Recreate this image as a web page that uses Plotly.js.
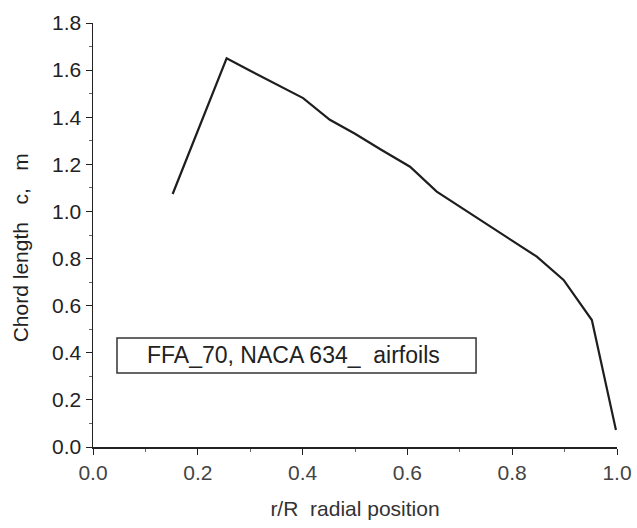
<!DOCTYPE html>
<html>
<head>
<meta charset="utf-8">
<script src="https://cdn.plot.ly/plotly-3.0.1.min.js"></script>
<style>html,body{margin:0;padding:0;background:#fff;}#chart{width:637px;height:528px;}</style>
</head>
<body>
<div id="chart"></div>
<script>
const radialPosition = [0.152, 0.204, 0.255, 0.30, 0.35, 0.401, 0.452, 0.50, 0.55, 0.605, 0.656, 0.70, 0.75, 0.80, 0.847, 0.898, 0.952, 0.998];
const chordLength   = [1.074, 1.367, 1.650, 1.597, 1.539, 1.481, 1.389, 1.330, 1.262, 1.190, 1.084, 1.021, 0.950, 0.876, 0.808, 0.709, 0.539, 0.072];
const xTicks = [0.0, 0.2, 0.4, 0.6, 0.8, 1.0];
const yTicks = [0.0, 0.2, 0.4, 0.6, 0.8, 1.0, 1.2, 1.4, 1.6, 1.8];
const boxLabel = "FFA_70, NACA 634_  airfoils";
const yTitle = "Chord length   c,   m";
const xTitle = "r/R  radial position";

const fam = "Liberation Sans, Arial, sans-serif";

Plotly.newPlot("chart", [{
  x: radialPosition, y: chordLength, type: "scatter", mode: "lines",
  line: {color: "#1e1e1e", width: 2.2}, hoverinfo: "skip"
}], {
  width: 637, height: 528,
  margin: {l: 93, r: 20, t: 23, b: 81},
  paper_bgcolor: "#fff", plot_bgcolor: "#fff",
  showlegend: false,
  font: {family: fam, size: 21, color: "#222"},
  xaxis: {
    range: [0, 1.0], tickvals: xTicks, ticktext: xTicks.map(v => v.toFixed(1)),
    showgrid: false, zeroline: false, showline: true, linecolor: "#222", linewidth: 1.5,
    ticks: "outside", ticklen: 6, tickcolor: "#222", tickfont: {family: fam, size: 21, color: "#444"},
    minor: {ticks: "outside", ticklen: 3, dtick: 0.1, tick0: 0, tickcolor: "#666", showgrid: false},
    title: {text: xTitle, font: {family: fam, size: 21, color: "#333"}, standoff: 18}
  },
  yaxis: {
    range: [0, 1.8], tickvals: yTicks, ticktext: yTicks.map(v => v.toFixed(1)),
    showgrid: false, zeroline: false, showline: true, linecolor: "#222", linewidth: 1.5,
    ticks: "outside", ticklen: 6, tickcolor: "#222", tickfont: {family: fam, size: 21, color: "#222"},
    minor: {ticks: "outside", ticklen: 3, dtick: 0.1, tick0: 0, tickcolor: "#666", showgrid: false}
  },
  shapes: [{
    type: "rect", xref: "paper", yref: "paper",
    x0: 0.0458, x1: 0.731, y0: 0.1745, y1: 0.257,
    line: {color: "#333", width: 1.5}, fillcolor: "rgba(0,0,0,0)"
  }],
  annotations: [{
    text: boxLabel, xref: "paper", yref: "paper", x: 0.0992, y: 0.216,
    xanchor: "left", yanchor: "middle", showarrow: false,
    font: {family: fam, size: 23, color: "#222"}
  }, {
    text: yTitle, xref: "paper", yref: "paper", x: -0.139, y: 0.469,
    xanchor: "center", yanchor: "middle", textangle: -90, showarrow: false,
    font: {family: fam, size: 21, color: "#222"}
  }]
}, {displayModeBar: false, staticPlot: true});
</script>
</body>
</html>
